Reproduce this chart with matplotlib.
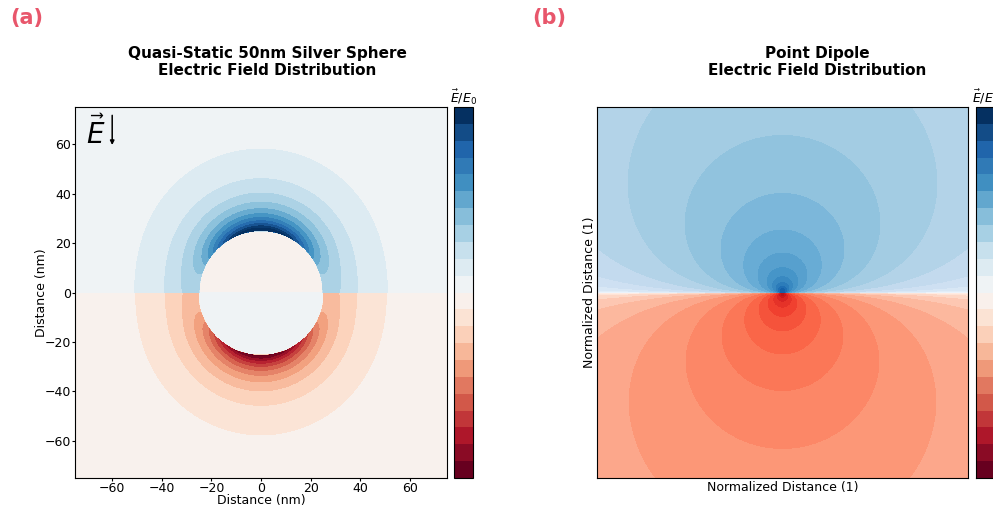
import numpy as np
import matplotlib.pyplot as plt
from matplotlib import colors, cm

# sphere / view parameters
radius_nm = 25.0
extent_nm = 75.0
n_bands = 22
tick_vals = [-60, -40, -20, 0, 20, 40, 60]

# empirical field shape (in units of one colour band)
amp_near = 9.2
amp_cut = 6.2
pol_k = 0.84
inside_val = 0.3

# point dipole: contour step in log10 and colour step per band
log_step = 0.4
log_floor = -2.655
col_step = 0.05
col_shift = 0.035

panel_labels = ['(a)', '(b)']
titles = ['Quasi-Static 50nm Silver Sphere\nElectric Field Distribution',
          'Point Dipole\nElectric Field Distribution']

fig = plt.figure(figsize=(9.93, 5.11), dpi=100)
W, H = 993.0, 511.0


def box(x0, y0, x1, y1):
    return [x0 / W, 1 - y1 / H, (x1 - x0) / W, (y1 - y0) / H]


half = n_bands // 2
levels = np.arange(-half, half + 1)
cmap = plt.get_cmap('RdBu')
norm = colors.BoundaryNorm(levels, cmap.N)

# ---- (a) quasi-static sphere
ax1 = fig.add_axes(box(75, 107, 447, 478))
x = np.linspace(-extent_nm, extent_nm, 901)
X, Y = np.meshgrid(x, x)
R = np.hypot(X, Y) + 1e-9
c2 = (Y / R) ** 2
q = (radius_nm / R) ** 3
F = amp_near * q * np.sqrt(1 + pol_k * c2) - amp_cut * q ** 2 * (1 - c2)
Z = np.sign(Y) * F
inside = R < radius_nm
Z[inside] = -np.sign(Y[inside]) * inside_val
ax1.contourf(X, Y, Z, levels=levels, cmap=cmap, extend='both')
ax1.set_xlim(-extent_nm, extent_nm)
ax1.set_ylim(-extent_nm, extent_nm)
ax1.set_xticks(tick_vals)
ax1.set_yticks(tick_vals)
ax1.tick_params(labelsize=9, length=2, pad=0.8)
ax1.set_xlabel('Distance (nm)', fontsize=9, labelpad=-0.5)
ax1.set_ylabel('Distance (nm)', fontsize=9, labelpad=-2)
ax1.text(0.03, 0.9, r'$\vec{E}$', transform=ax1.transAxes, fontsize=20)
ax1.annotate('', xy=(0.1, 0.89), xytext=(0.1, 0.985), xycoords='axes fraction',
             arrowprops=dict(arrowstyle='-|>', lw=1.1, color='black', mutation_scale=6))

# ---- (b) point dipole
ax2 = fig.add_axes(box(597, 107, 968, 478))
u = np.linspace(-1, 1, 901)
U, V = np.meshgrid(u, u)
Rb = np.hypot(U, V) + 1e-6
phi = np.abs(V) / Rb ** 3
L = np.sign(V) * np.clip((np.log10(phi + 1e-12) - log_floor) / log_step, 0, None)
nb = 16
blues = plt.get_cmap('Blues')
reds = plt.get_cmap('Reds')
pos = np.clip(np.arange(nb) * col_step + col_step / 2 + col_shift, 0, 1)
dip_cols = [reds(p) for p in pos[::-1]] + [blues(p) for p in pos]
dip_cmap = colors.ListedColormap(dip_cols)
blev = np.arange(-nb, nb + 1)
ax2.contourf(U, V, L, levels=blev, cmap=dip_cmap, extend='both')
ax2.set_xticks([])
ax2.set_yticks([])
ax2.set_xlabel('Normalized Distance (1)', fontsize=9, labelpad=2)
ax2.set_ylabel('Normalized Distance (1)', fontsize=9, labelpad=1)

# colorbars
for cb_box in [box(454, 107, 473, 478), box(976, 107, 995, 478)]:
    cax = fig.add_axes(cb_box)
    sm = cm.ScalarMappable(norm=norm, cmap=cmap)
    cb = fig.colorbar(sm, cax=cax, ticks=[])
    cb.minorticks_off()
    cax.set_title(r'$\vec{E}/E_0$', fontsize=9, pad=2)

fig.text(267 / W, 1 - 62 / H, titles[0], ha='center', va='center', fontsize=11, fontweight='bold')
fig.text(817 / W, 1 - 62 / H, titles[1], ha='center', va='center', fontsize=11, fontweight='bold')
fig.text(10 / W, 1 - 18 / H, panel_labels[0], fontsize=15, fontweight='bold', color='#e8566b', va='center')
fig.text(532 / W, 1 - 18 / H, panel_labels[1], fontsize=15, fontweight='bold', color='#e8566b', va='center')

fig.savefig('out.png', dpi=100)
